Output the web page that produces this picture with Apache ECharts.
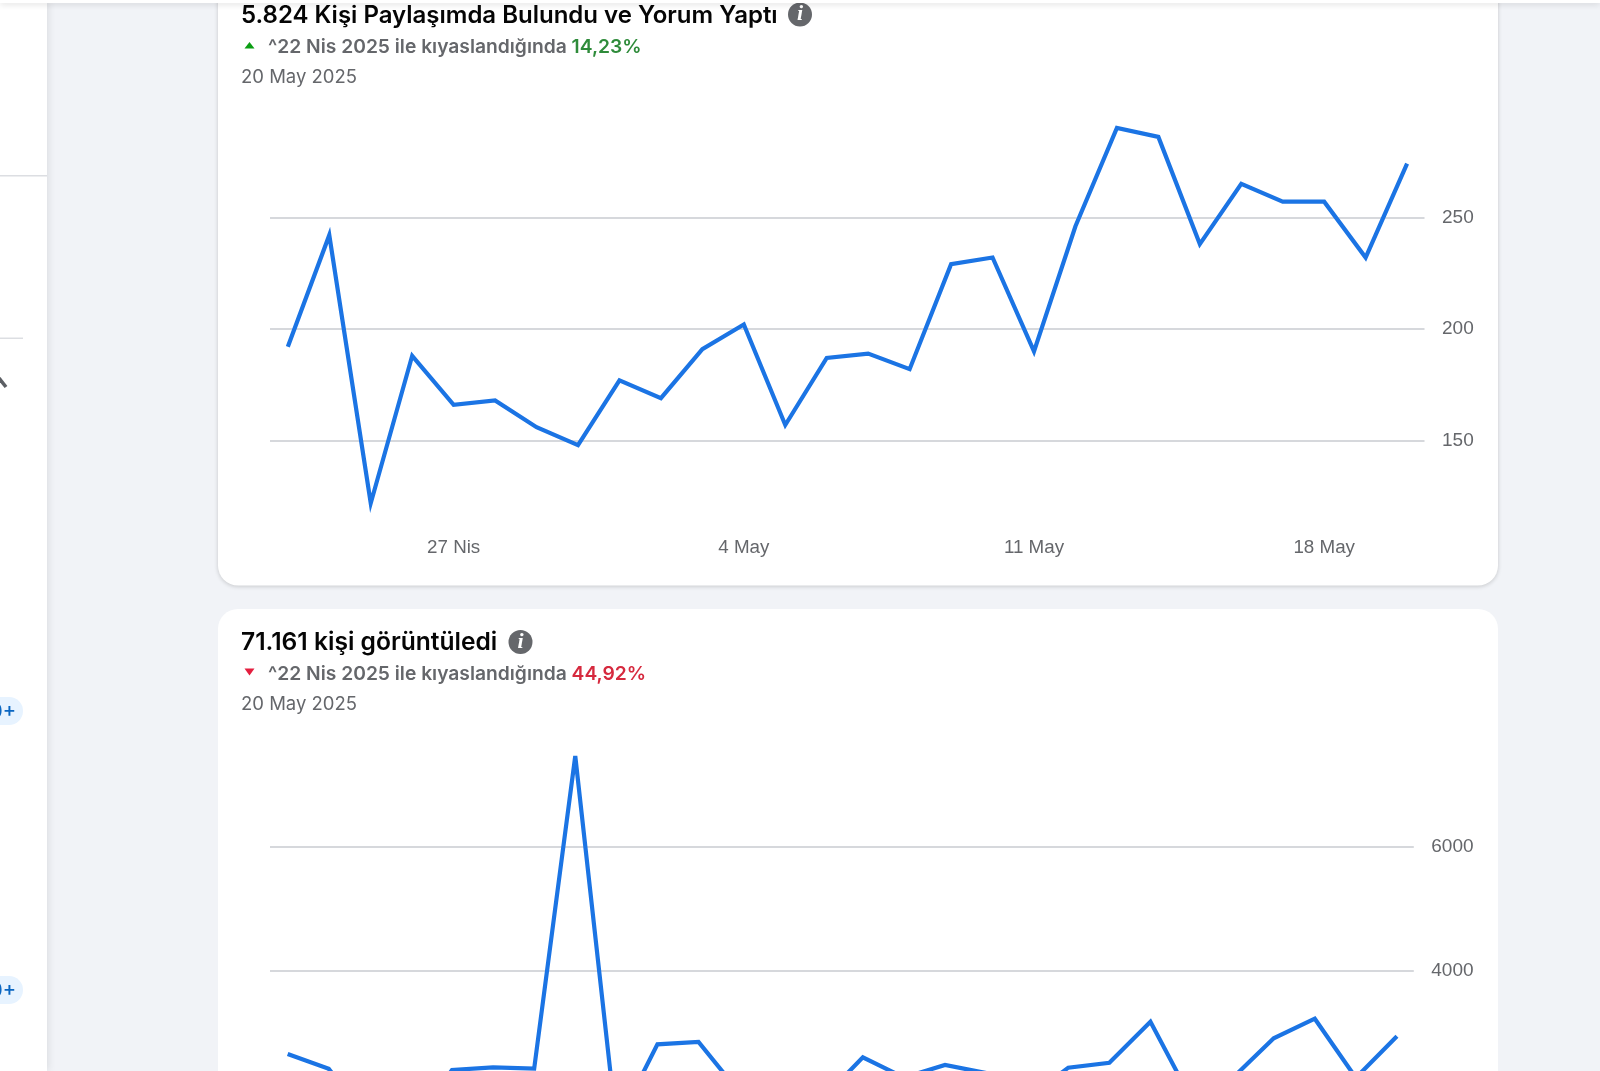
<!DOCTYPE html>
<html lang="tr">
<head>
<meta charset="utf-8">
<title>Grafik</title>
<style>
html,body{margin:0;padding:0;background:#f1f3f7;overflow:hidden}
#c{width:1600px;height:1071px}
</style>
<script src="https://cdn.jsdelivr.net/npm/echarts@6/dist/echarts.min.js"></script>
</head>
<body>
<div id="c"></div>
<script>
const days = ['23 Nis','24 Nis','25 Nis','26 Nis','27 Nis','28 Nis','29 Nis','30 Nis','1 May','2 May','3 May','4 May','5 May','6 May','7 May','8 May','9 May','10 May','11 May','12 May','13 May','14 May','15 May','16 May','17 May','18 May','19 May','20 May'];
const interactions = [192,242,122,188,166,168,156,148,177,169,191,202,157,187,189,182,229,232,190,246,290,286,238,265,257,257,232,274];
const views = [2669,2430,1600,1500,2412,2455,2433,7448,1520,2824,2861,2050,1520,1937,2616,2292,2492,2364,1950,2450,2529,3187,1939,2284,2921,3235,2287,2955];
const dateTickIndexes = [4,11,18,25];
const interactionTicks = [150,200,250];
const viewTicks = [2000,4000,6000];
const title1 = '5.824 Kişi Paylaşımda Bulundu ve Yorum Yaptı';
const title2 = '71.161 kişi görüntüledi';
const compareText = '^22 Nis 2025 ile kıyaslandığında ';
const change1 = '14,23%';
const change2 = '44,92%';
const dateText = '20 May 2025';

const BLUE = '#1b74e4', GRID = '#d6d8dc', MUTED = '#65676b';
const AXFONT = '"Liberation Sans", Arimo, sans-serif';
const UIFONT = 'Inter, "Liberation Sans", sans-serif';

function xAxis(gridIndex, min, max){
  return {type:'value', gridIndex, min, max,
    axisLine:{show:false}, splitLine:{show:false},
    axisTick:{show:false, customValues:dateTickIndexes},
    axisLabel:{customValues:dateTickIndexes, color:MUTED, fontFamily:AXFONT, fontSize:18.8, margin:8,
      formatter:v=>days[v]}};
}
function yAxis(gridIndex, min, max, ticks){
  return {type:'value', gridIndex, position:'right', min, max,
    axisLine:{show:false},
    axisTick:{show:false, customValues:ticks},
    splitLine:{show:true, lineStyle:{color:GRID, width:2}},
    axisLabel:{customValues:ticks, color:MUTED, fontFamily:AXFONT, fontSize:19, margin:17.5,
      formatter:v=>String(v)}};
}
function lineSeries(i, values){
  return {type:'line', xAxisIndex:i, yAxisIndex:i, symbol:'none', animation:false, silent:true,
    lineStyle:{color:BLUE, width:4.2, join:'miter', miterLimit:6, cap:'butt'},
    data:values.map((v,k)=>[k,v])};
}
function txt(x,yc,text,font,size,weight,fill,align){
  return {type:'text', x, y:yc, z:50, style:{text, fontFamily:font, fontSize:size, fontWeight:weight, fill, verticalAlign:'middle', align:align||'left'}};
}
function info(cx,cy){
  return [{type:'circle', z:50, shape:{cx,cy,r:12}, style:{fill:MUTED}},
    {type:'text', z:51, x:cx, y:cy, style:{text:'i', fill:'#fff', fontFamily:'"Liberation Serif", serif', fontStyle:'italic', fontWeight:700, fontSize:22, align:'center', verticalAlign:'middle'}}];
}
function subtitle(yc, change, color){
  return {type:'text', z:50, x:268, y:yc, style:{
    text:'{a|'+compareText+'}{b|'+change+'}', fontFamily:UIFONT, verticalAlign:'middle',
    rich:{a:{fill:MUTED, fontFamily:UIFONT, fontSize:19.25, fontWeight:600},
          b:{fill:color, fontFamily:UIFONT, fontSize:19.25, fontWeight:600}}}};
}

const graphic = [
  {type:'rect', z:-10, shape:{x:0,y:0,width:47,height:1071}, style:{fill:'#fff', shadowBlur:8, shadowColor:'rgba(0,0,0,0.10)', shadowOffsetX:1}},
  {type:'rect', z:-9, shape:{x:0,y:175,width:47,height:1.5}, style:{fill:'#dcdee2'}},
  {type:'rect', z:-9, shape:{x:0,y:337.5,width:23,height:1.5}, style:{fill:'#dcdee2'}},
  {type:'line', z:-9, shape:{x1:-1,y1:378,x2:6,y2:387}, style:{stroke:'#5c5f64', lineWidth:3.5}},
  {type:'rect', z:-9, shape:{x:-30,y:697,width:53,height:28,r:14}, style:{fill:'#e7f3ff'}},
  {type:'rect', z:-9, shape:{x:-30,y:976,width:53,height:28,r:14}, style:{fill:'#e7f3ff'}},
  txt(16,712,'0+',UIFONT,20,500,'#0a66c2','right'),
  txt(16,991,'0+',UIFONT,20,500,'#0a66c2','right'),
  {type:'rect', z:-8, shape:{x:218,y:-40,width:1280,height:625.5,r:20}, style:{fill:'#fff', shadowBlur:4, shadowOffsetY:1, shadowColor:'rgba(0,0,0,0.18)'}},
  {type:'rect', z:-8, shape:{x:218,y:609,width:1280,height:600,r:20}, style:{fill:'#fff'}},
  {type:'rect', z:60, shape:{x:0,y:0,width:1600,height:3}, style:{fill:'#fff', shadowBlur:6, shadowOffsetY:1, shadowColor:'rgba(0,0,0,0.18)'}},
  txt(241,16,title1,UIFONT,24,600,'#050505'),
  ...info(800,14.5),
  {type:'polygon', z:50, shape:{points:[[244.5,48.5],[254.5,48.5],[249.5,42]]}, style:{fill:'#0b9e13'}},
  subtitle(47,change1,'#2e8b3a'),
  txt(241,77,dateText,UIFONT,18.5,400,MUTED),
  txt(241,642.5,title2,UIFONT,24.6,600,'#050505'),
  ...info(520.5,642),
  {type:'polygon', z:50, shape:{points:[[244.5,668.5],[254.5,668.5],[249.5,675.5]]}, style:{fill:'#e41e3f'}},
  subtitle(674,change2,'#d6293e'),
  txt(241,704,dateText,UIFONT,18.5,400,MUTED)
];

const chart = echarts.init(document.getElementById('c'), null, {width:1600, height:1071});
chart.setOption({
  backgroundColor:'#f1f3f7',
  animation:false,
  graphic:{elements:graphic},
  grid:[
    {left:270, top:105.6, width:1154.5, height:424.4, outerBoundsMode:'none', containLabel:false},
    {left:270, top:721.6, width:1143.8, height:498.8, outerBoundsMode:'none', containLabel:false}
  ],
  xAxis:[xAxis(0,-0.43,27.42), xAxis(1,-0.43,27.41)],
  yAxis:[yAxis(0,110,300,interactionTicks), yAxis(1,0,8000,viewTicks)],
  series:[lineSeries(0,interactions), lineSeries(1,views)]
});
</script>
</body>
</html>
